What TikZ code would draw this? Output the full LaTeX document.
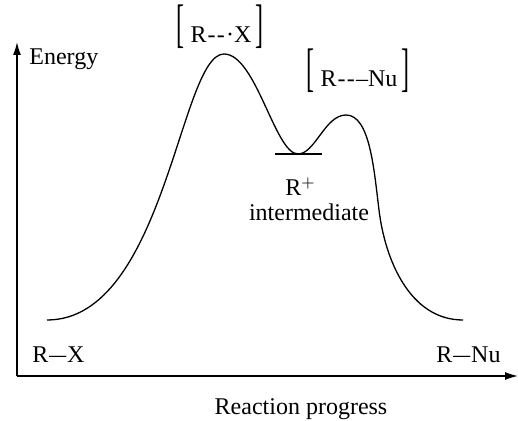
\documentclass[tikz,border=0pt]{standalone}
\usepackage{fontspec}
\setmainfont{Liberation Serif}
\usetikzlibrary{arrows.meta,positioning}

\newcommand\sqbr[1]{\raisebox{0.9pt}{\scalebox{1}[2.2]{#1}}}
\newcommand\tstate[1]{\sqbr{[}\kern3pt#1\kern2pt\sqbr{]}}
\newcommand\bond{\kern0.5pt\scalebox{1.4}[1]{–}\kern0.5pt}
\newcommand\pbond{\kern0.6pt-\kern0.6pt-\kern0.6pt}

\begin{document}
\begin{tikzpicture}[
  x=0.5pt, y=-0.5pt,
  font=\fontsize{12}{14}\selectfont,
  lbl/.style={inner sep=0pt},
  axis/.style={-{Latex[length=6.5pt,width=4pt]}, line width=0.7pt},
  profile/.style={line width=0.65pt}
]
\useasboundingbox (0,0) rectangle (518,421);
\coordinate (o) at (17,376);
\coordinate (ytop) at (17,42);
\coordinate (xend) at (518,376);
\coordinate (lvll) at (275,154);
\coordinate (lvlr) at (322,154);
\node[lbl, anchor=base west] (energy) at (29,65) {Energy};
\node[lbl, anchor=base] (prog) at (301,414) {Reaction progress};
\node[lbl, anchor=base] (ts1) at (220,43) {\tstate{R\pbond·X}};
\node[lbl, anchor=base] (ts2) at (358,87) {\tstate{R\pbond–Nu}};
\node[lbl, anchor=base west] (rplus) at (285,196) {R$^+$};
\node[lbl, anchor=base] (inter) at (309,221) {intermediate};
\node[lbl, anchor=base west] (react) at (32,363) {R\bond X};
\node[lbl, anchor=base west] (prod) at (436,363) {R\bond Nu};
\draw[axis] (o) -- (ytop);
\draw[axis] (o) -- (xend);
\draw[profile] (47,320) .. controls (165,320) and (180,54) .. (224,54)
  .. controls (256,54) and (275,154) .. (298,154)
  .. controls (315,154) and (325,115) .. (346,115)
  .. controls (370,115) and (374,170) .. (379,210)
  .. controls (385,260) and (410,320) .. (463,320);
\draw[profile] (lvll) -- (lvlr);
\end{tikzpicture}
\end{document}
